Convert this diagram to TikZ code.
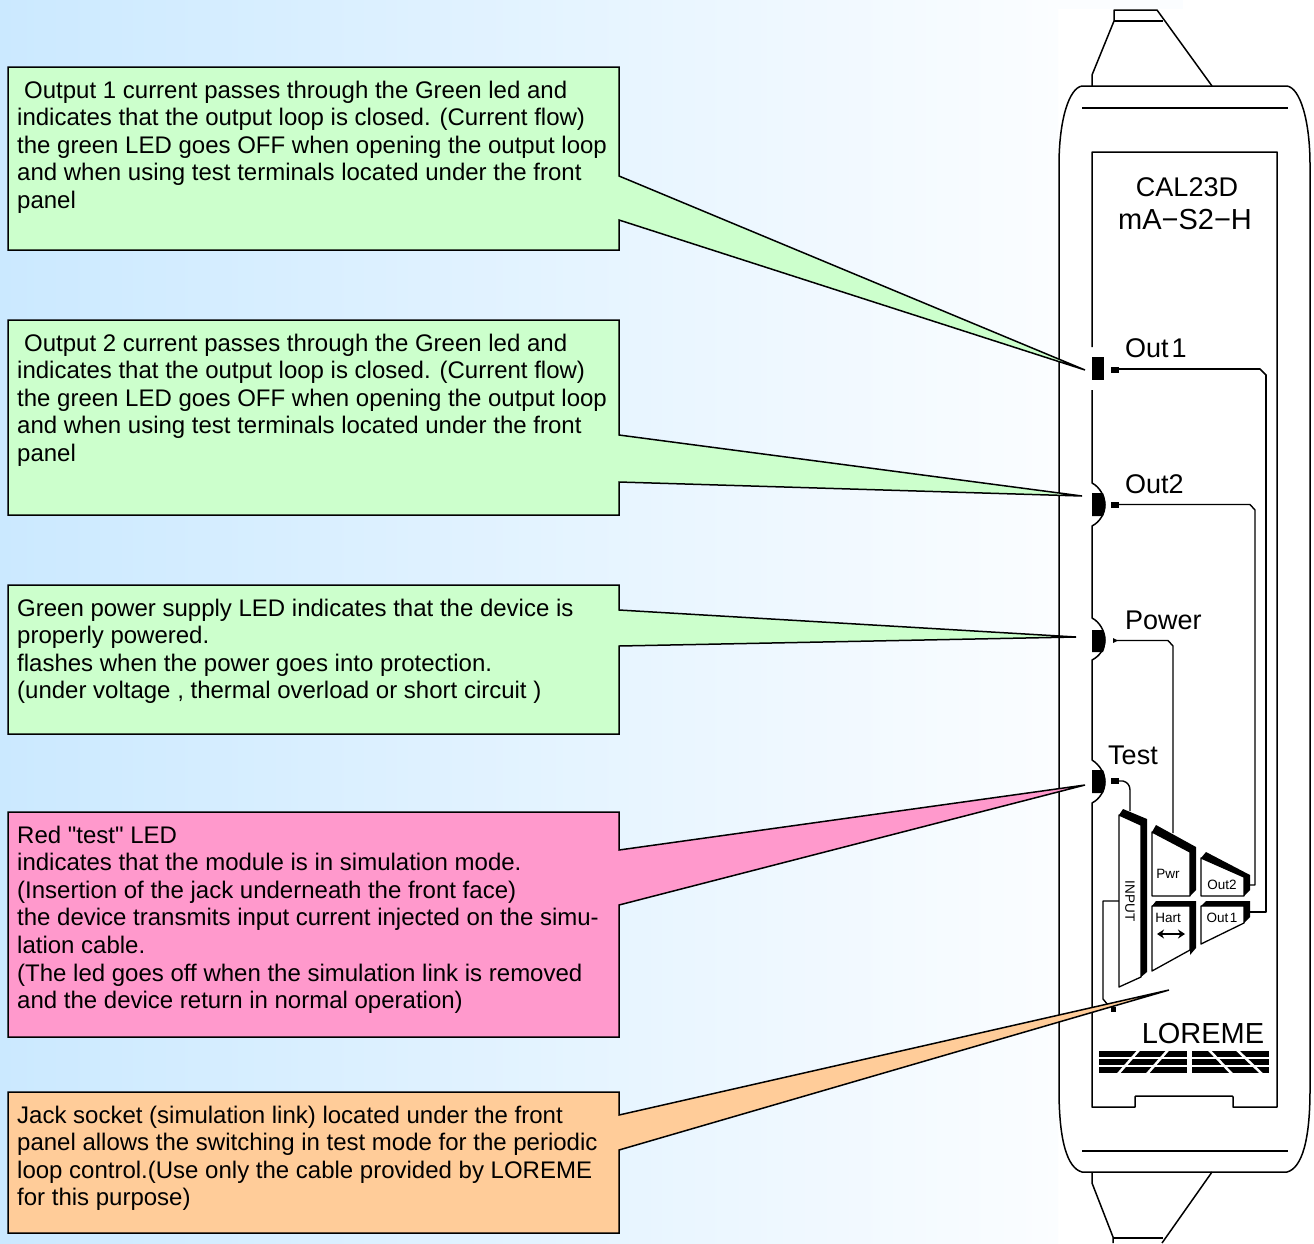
\documentclass[tikz,border=0pt]{standalone}
\usepackage{fontspec}
\usetikzlibrary{arrows.meta}
\setmainfont{Liberation Sans}
\newfontfamily\plainq{Liberation Sans}
\definecolor{bgl}{HTML}{CBE9FF}
\definecolor{bgr}{HTML}{FBFDFF}
\definecolor{gbox}{HTML}{CCFFCC}
\definecolor{pbox}{HTML}{FF99CC}
\definecolor{obox}{HTML}{FFCC99}
\tikzset{
 call/.style={draw=black,line width=1.5pt,line join=miter},
 calltext/.style={anchor=north west,inner sep=0pt,align=left,font=\fontsize{24}{27.6}\selectfont},
 dev/.style={draw=black,line width=1.5pt,line join=round},
 wire/.style={draw=black,line width=1.4pt,line join=round},
 thick wire/.style={draw=black,line width=1.7pt,line join=round},
 blk/.style={fill=black,draw=none},
 btn/.style={draw=black,line width=1.3pt,fill=white,line join=round},
 lbl/.style={inner sep=0pt,font=\fontsize{27}{27}\selectfont},
 small lbl/.style={inner sep=0pt,font=\fontsize{13.5}{14}\selectfont},
}
\begin{document}
\begin{tikzpicture}[x=1pt,y=-1pt]
\useasboundingbox (0,0) rectangle (1314,1243);
\fill[white] (0,0) rectangle (1314,1243);
\fill[bgr] (1058,0) rectangle (1183,9);
\shade[left color=bgl,right color=bgr] (0,0) rectangle (1058,1243);

% device body
\draw[dev] (1082,86) -- (1287,86) .. controls (1300,88) and (1310,120) .. (1310,165)
 -- (1310,1090) .. controls (1310,1140) and (1302,1168) .. (1287,1172) -- (1082,1172)
 .. controls (1067,1168) and (1059,1140) .. (1059,1090) -- (1059,165)
 .. controls (1059,120) and (1069,88) .. (1082,86) -- cycle;
\draw[dev] (1082,108) -- (1288,108);
\draw[dev] (1082,1151) -- (1288,1151);
\draw[dev] (1092,86) -- (1092,75) -- (1114,21) -- (1114,10) -- (1157,10) -- (1212,86);
\draw[dev] (1114,21) -- (1163,21);
\draw[dev] (1092,1172) -- (1092,1183) -- (1113,1237) -- (1113,1243);
\draw[dev] (1113,1238) -- (1163,1238);
\draw[dev] (1212,1172) -- (1162,1243);

% front panel
\draw[dev] (1092,347) -- (1092,152) -- (1277,152) -- (1277,1107) -- (1233,1107)
 -- (1233,1097) .. controls (1233,1096) and (1232,1096) .. (1231,1096) -- (1137,1096)
 .. controls (1136,1096) and (1135,1096) .. (1135,1097) -- (1135,1107) -- (1092,1107) -- (1092,805);
\draw[dev] (1092,805) -- (1092,803) .. controls (1100,799) and (1105,790) .. (1105,782)
 .. controls (1105,774) and (1100,765) .. (1092,760) -- (1092,660)
 .. controls (1100,656) and (1105,648) .. (1105,640) .. controls (1105,632) and (1100,622) .. (1092,618)
 -- (1092,526) .. controls (1100,522) and (1105,513) .. (1105,505)
 .. controls (1105,497) and (1100,487) .. (1092,483) -- (1092,390);

% LEDs
\fill[blk] (1092,357) rectangle (1104,380);
\fill[blk] (1092,493) -- (1103,493) .. controls (1106,500) and (1106,509) .. (1103,516) -- (1092,516) -- cycle;
\fill[blk] (1092,630) -- (1103,630) .. controls (1106,636) and (1106,646) .. (1103,652) -- (1092,652) -- cycle;
\fill[blk] (1092,770) -- (1103,770) .. controls (1106,776) and (1106,787) .. (1103,793) -- (1092,793) -- cycle;

% leads
\fill[blk] (1111,366.5) rectangle (1119,372.5);
\fill[blk] (1111,501.5) rectangle (1119,507.5);
\fill[blk] (1113,638) -- (1118,640.5) -- (1113,643) -- cycle;
\fill[blk] (1111,778) rectangle (1119,784);
\fill[blk] (1111,1007) rectangle (1116,1012);

\coordinate (o1lead) at (1118,369);
\coordinate (o2lead) at (1118,504.5);
\coordinate (plead) at (1116,640.5);
\coordinate (tlead) at (1118,781);
\coordinate (o1btn) at (1250,912);
\coordinate (o2btn) at (1250,885);
\coordinate (pbtn) at (1173,833);
\coordinate (tbtn) at (1130,811);
\coordinate (ibtn) at (1119,901);
\coordinate (jack) at (1113,1006);

% wires
\draw[thick wire] (o1lead) -- (1260,369) -- (1266,375) -- (1266,912) -- (o1btn);
\draw[wire] (o2lead) -- (1250,504.5) -- (1255,510) -- (1255,885) -- (o2btn);
\draw[wire] (plead) -- (1168,640.5) -- (1173,646) -- (pbtn);
\draw[wire] (tlead) -- (1123,781) .. controls (1127,782) and (1130,785) .. (1130,790) -- (tbtn);
\draw[wire] (ibtn) -- (1103,901) -- (1103,999) -- (1108,1005) -- (jack);

% buttons
\draw[btn] (1119,815) -- (1141,825) -- (1141,977) -- (1119,987) -- cycle;
\fill[blk] (1119,815) -- (1123,809) -- (1147,819) -- (1147,972) -- (1141,977) -- (1141,825) -- cycle;
\draw[btn] (1152,832) -- (1190,852) -- (1190,896) -- (1152,896) -- cycle;
\fill[blk] (1152,832) -- (1156,825) -- (1196,847) -- (1196,890) -- (1190,896) -- (1190,852) -- cycle;
\draw[btn] (1201,858) -- (1244,877) -- (1244,896) -- (1201,896) -- cycle;
\fill[blk] (1201,858) -- (1206,852) -- (1250,875) -- (1250,890) -- (1244,896) -- (1244,877) -- cycle;
\draw[btn] (1152,906) -- (1190,906) -- (1190,950) -- (1152,971) -- cycle;
\fill[blk] (1152,906) -- (1156,901) -- (1196,901) -- (1196,948) -- (1190,955) -- (1190,906) -- cycle;
\draw[btn] (1201,906) -- (1244,906) -- (1244,923) -- (1201,944) -- cycle;
\fill[blk] (1201,906) -- (1206,901) -- (1250,901) -- (1250,917) -- (1244,923) -- (1244,906) -- cycle;
\draw[line width=1.6pt,{Stealth[length=7pt,width=9pt]}-{Stealth[length=7pt,width=9pt]}] (1157,934) -- (1185,934);

% device labels
\node[lbl] (cal) at (1187,187) {CAL23D};
\node[lbl,font=\fontsize{29}{29}\selectfont] (model) at (1185,220) {mA−S2−H};
\node[lbl,anchor=west] (lo1) at (1125,348) {Out\hspace{3pt}1};
\node[lbl,anchor=west] (lo2) at (1125,484) {Out2};
\node[lbl,anchor=west] (lpw) at (1125,620) {Power};
\node[lbl,anchor=west] (lte) at (1108,755) {Test};
\node[small lbl] (bpwr) at (1168,874) {Pwr};
\node[small lbl] (bo2) at (1222,885) {Out2};
\node[small lbl] (bhart) at (1168,918) {Hart};
\node[small lbl] (bo1) at (1222,918) {Out\hspace{1.5pt}1};
\node[small lbl,rotate=-90] (binp) at (1130,901) {INPUT};
\node[inner sep=0pt,font=\fontsize{29}{29}\selectfont] (logo) at (1203,1033) {LOREME};

% logo bars
\fill[blk] (1099,1051) rectangle (1269,1057);
\fill[blk] (1099,1059) rectangle (1269,1065);
\fill[blk] (1099,1067) rectangle (1269,1073);
\fill[white] (1187,1050) rectangle (1192,1074);
\draw[white,line width=2.5pt] (1139,1050) -- (1118,1074);
\draw[white,line width=2.5pt] (1168,1050) -- (1147,1074);
\draw[white,line width=2.5pt] (1209,1050) -- (1232,1074);
\draw[white,line width=2.5pt] (1237,1050) -- (1262,1074);

% callouts
\draw[call,fill=gbox] (8,67) -- (619,67) -- (619,176) -- (1085,370) -- (619,220) -- (619,250) -- (8,250) -- cycle;
\draw[call,fill=gbox] (8,320) -- (619,320) -- (619,435) -- (1082,496) -- (619,482) -- (619,515) -- (8,515) -- cycle;
\draw[call,fill=gbox] (8,585) -- (619,585) -- (619,610) -- (1076,637) -- (619,646) -- (619,734) -- (8,734) -- cycle;
\draw[call,fill=pbox] (8,812) -- (619,812) -- (619,850) -- (1085,785) -- (619,905) -- (619,1037) -- (8,1037) -- cycle;
\draw[call,fill=obox] (8,1092) -- (619,1092) -- (619,1115) -- (1169,990) -- (619,1150) -- (619,1233) -- (8,1233) -- cycle;

\node[calltext] (t1) at (17,80.5) {\hspace*{7pt}Output 1 current passes through the Green led and\\indicates that the output loop is closed. (Current flow)\\the green LED goes OFF when opening the output loop\\and when using test terminals located under the front\\panel};
\node[calltext] (t2) at (17,333.5) {\hspace*{7pt}Output 2 current passes through the Green led and\\indicates that the output loop is closed. (Current flow)\\the green LED goes OFF when opening the output loop\\and when using test terminals located under the front\\panel};
\node[calltext] (t3) at (17,598.5) {Green power supply LED indicates that the device is\\properly powered.\\flashes when the power goes into protection.\\(under voltage , thermal overload or short circuit )};
\node[calltext] (t4) at (17,825.5) {Red {\plainq"}test{\plainq"} LED\\indicates that the module is in simulation mode.\\(Insertion of the jack underneath the front face)\\the device transmits input current injected on the simu-\\lation cable.\\(The led goes off when the simulation link is removed\\and the device return in normal operation)};
\node[calltext] (t5) at (17,1105.5) {Jack socket (simulation link) located under the front\\panel allows the switching in test mode for the periodic\\loop control.(Use only the cable provided by LOREME\\for this purpose)};
\end{tikzpicture}
\end{document}
